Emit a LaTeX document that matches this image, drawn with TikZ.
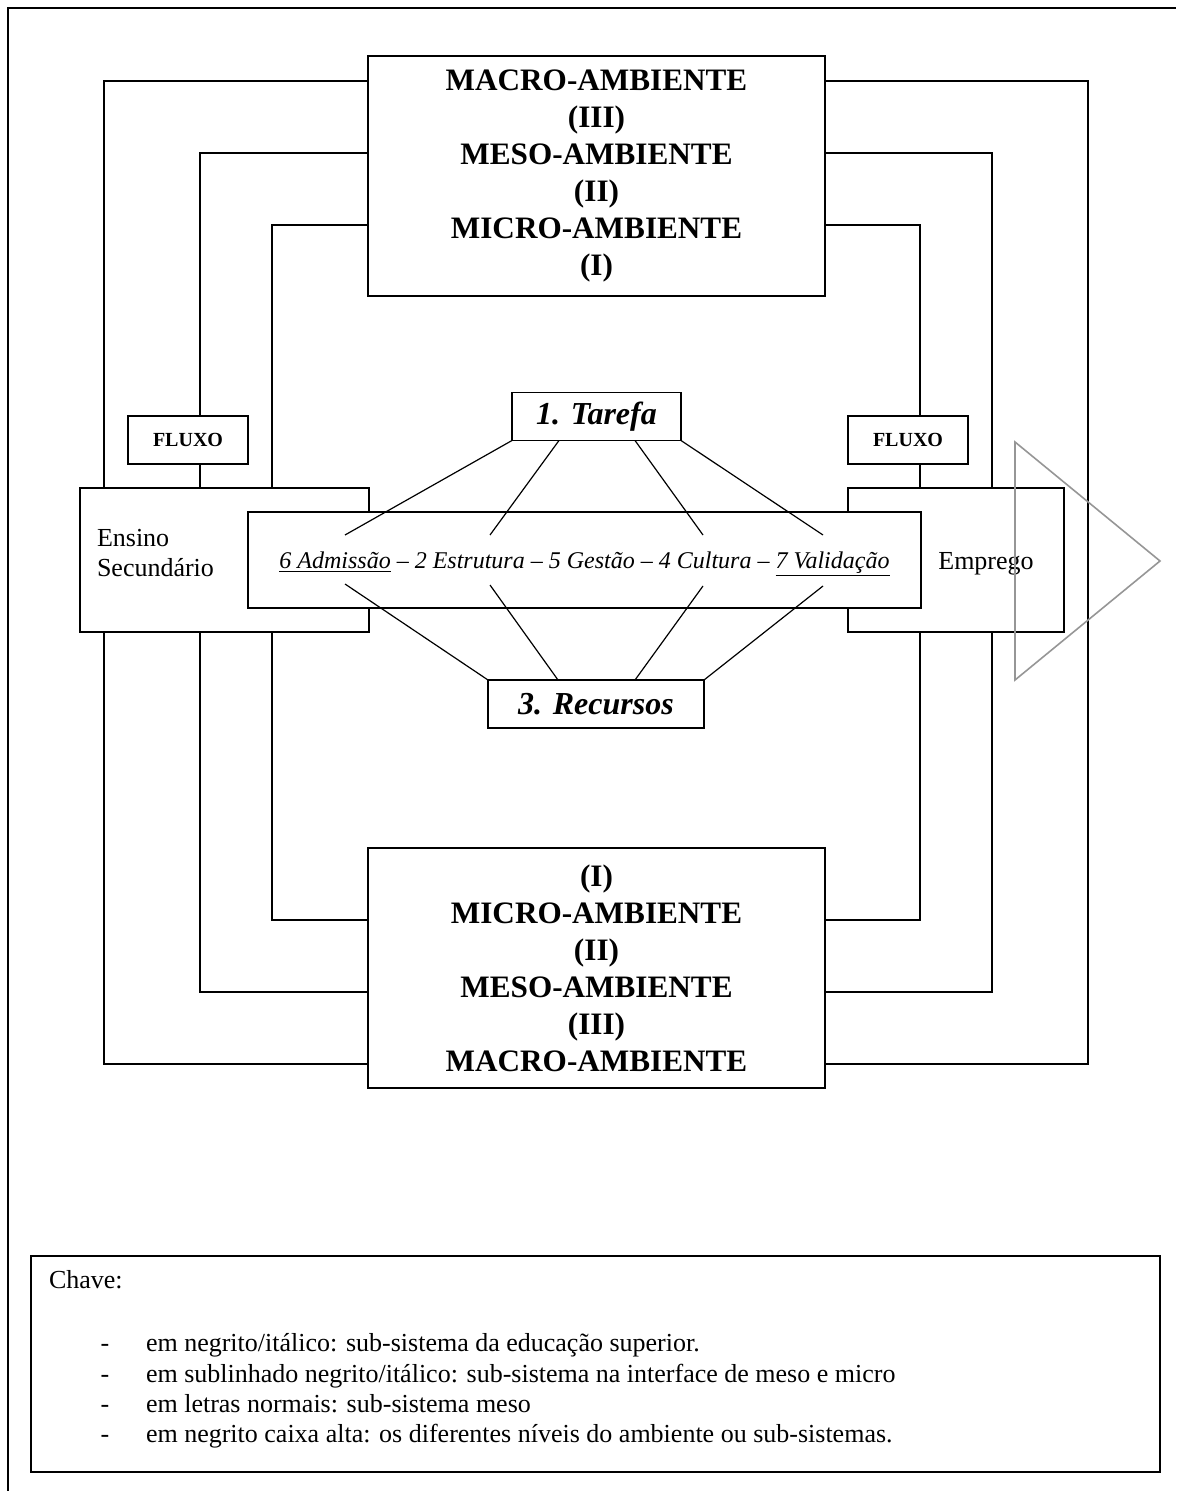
\documentclass[tikz,border=0pt]{standalone}
\usepackage{fontspec}
\setmainfont{Liberation Serif}
\usepackage{tikz}
\usetikzlibrary{positioning,calc}
\definecolor{arrowgray}{RGB}{150,150,150}

\begin{document}
\begin{tikzpicture}[x=0.5pt, y=-0.5pt, line width=0.9pt,
    envbox/.style={draw, fill=white, inner sep=0pt, outer sep=0pt,
        minimum width=228.5pt, minimum height=120pt, align=center,
        font=\bfseries\fontsize{15.6}{18.5}\selectfont},
    fluxbox/.style={draw, fill=white, inner sep=0pt, outer sep=0pt,
        minimum width=60pt, minimum height=24pt,
        font=\bfseries\fontsize{10}{12}\selectfont},
    sysbox/.style={draw, fill=white, inner sep=0pt, outer sep=0pt,
        minimum height=72pt},
    subbox/.style={draw, fill=white, inner sep=0pt, outer sep=0pt,
        minimum height=24pt, font=\bfseries\itshape\fontsize{16}{19}\selectfont},
    plain/.style={inner sep=0pt, outer sep=0pt, font=\fontsize{13}{15}\selectfont}
]
    \useasboundingbox (0,0) rectangle (1176,1491);
    \draw (8,1491) -- (8,8) -- (1176,8);

    % environment levels
    \node[envbox] (topenv) at (596.5,176)
        {MACRO-AMBIENTE\\(III)\\MESO-AMBIENTE\\(II)\\MICRO-AMBIENTE\\(I)};
    \node[envbox] (botenv) at (596.5,968)
        {(I)\\MICRO-AMBIENTE\\(II)\\MESO-AMBIENTE\\(III)\\MACRO-AMBIENTE};

    \node[fluxbox] (fluxol) at (188,440) {FLUXO};
    \node[fluxbox] (fluxor) at (908,440) {FLUXO};

    \node[sysbox, minimum width=144.5pt] (ensino) at (224.5,560) {};
    \node[sysbox, minimum width=108pt] (emprego) at (956,560) {};
    \node[plain, anchor=west, align=left] (ensinotext) at (97,553) {Ensino\\Secundário};
    \node[plain, anchor=base] (empregotext) at (986,569) {Emprego};

    \node[draw, fill=white, inner sep=0pt, outer sep=0pt, minimum width=336.5pt,
        minimum height=48pt, text height=10pt, text depth=2pt,
        font=\itshape\fontsize{12}{14}\selectfont] (meso) at (584.5,560)
        {\underline{6 Admissão} -- 2 Estrutura -- 5 Gestão -- 4 Cultura -- \underline{7 Validação}};

    \node[subbox, minimum width=84.5pt] (tarefa) at (596.5,416.5) {1. Tarefa};
    \node[subbox, minimum width=108pt] (recursos) at (596,704) {3. Recursos};

    % bracket lines
    \coordinate (lo) at (104,0);
    \coordinate (lm) at (200,0);
    \coordinate (li) at (272,0);
    \coordinate (ri) at (920,0);
    \coordinate (rm) at (992,0);
    \coordinate (ro) at (1088,0);

    \draw ($(topenv.north west)+(0,25)$) -| (ensino.north -| lo);
    \draw (ensino.south -| lo) |- ($(botenv.north west)+(0,216)$);
    \draw ($(topenv.north west)+(0,97)$) -| (fluxol.north -| lm);
    \draw (fluxol.south -| lm) -- (ensino.north -| lm);
    \draw (ensino.south -| lm) |- ($(botenv.north west)+(0,144)$);
    \draw ($(topenv.north west)+(0,169)$) -| (ensino.north -| li);
    \draw (ensino.south -| li) |- ($(botenv.north west)+(0,72)$);

    \draw ($(topenv.north east)+(0,25)$) -| ($(botenv.north -| ro)+(0,216)$)
        -- ($(botenv.north east)+(0,216)$);
    \draw ($(topenv.north east)+(0,97)$) -| (emprego.north -| rm);
    \draw (emprego.south -| rm) |- ($(botenv.north east)+(0,144)$);
    \draw ($(topenv.north east)+(0,169)$) -| (fluxor.north -| ri);
    \draw (fluxor.south -| ri) -- (emprego.north -| ri);
    \draw (emprego.south -| ri) |- ($(botenv.north east)+(0,72)$);

    % spokes
    \coordinate (adm-t) at (345,535);
    \coordinate (est-t) at (490,535);
    \coordinate (cul-t) at (703,535);
    \coordinate (val-t) at (823,535);
    \coordinate (adm-b) at (345,584);
    \coordinate (est-b) at (490,585);
    \coordinate (cul-b) at (703,586);
    \coordinate (val-b) at (823,586);

    \draw[line width=0.6pt] (tarefa.south west) -- (adm-t);
    \draw[line width=0.6pt] ($(tarefa.south west)+(47,0)$) -- (est-t);
    \draw[line width=0.6pt] ($(tarefa.south east)+(-46,0)$) -- (cul-t);
    \draw[line width=0.6pt] (tarefa.south east) -- (val-t);
    \draw[line width=0.6pt] (recursos.north west) -- (adm-b);
    \draw[line width=0.6pt] ($(recursos.north west)+(70,0)$) -- (est-b);
    \draw[line width=0.6pt] ($(recursos.north east)+(-69,0)$) -- (cul-b);
    \draw[line width=0.6pt] (recursos.north east) -- (val-b);

    % output arrow
    \draw[arrowgray, line width=0.8pt] (1015,442) -- (1160,561) -- (1015,680) -- cycle;

    % key
    \node[draw, inner sep=0pt, outer sep=0pt, minimum width=564.5pt,
        minimum height=108pt] (chave) at (595.5,1364) {};
    \node[plain, anchor=base west] (chavetitle) at (49,1288) {Chave:};
    \node[plain, anchor=base] (dash1) at (105,1351) {-};
    \node[plain, anchor=base] (dash2) at (105,1382) {-};
    \node[plain, anchor=base] (dash3) at (105,1412) {-};
    \node[plain, anchor=base] (dash4) at (105,1442) {-};
    \node[plain, anchor=base west] (key1) at (146,1351) {em negrito/itálico: sub-sistema da educação superior.};
    \node[plain, anchor=base west] (key2) at (146,1382) {em sublinhado negrito/itálico: sub-sistema na interface de meso e micro};
    \node[plain, anchor=base west] (key3) at (146,1412) {em letras normais: sub-sistema meso};
    \node[plain, anchor=base west] (key4) at (146,1442) {em negrito caixa alta: os diferentes níveis do ambiente ou sub-sistemas.};
\end{tikzpicture}
\end{document}
